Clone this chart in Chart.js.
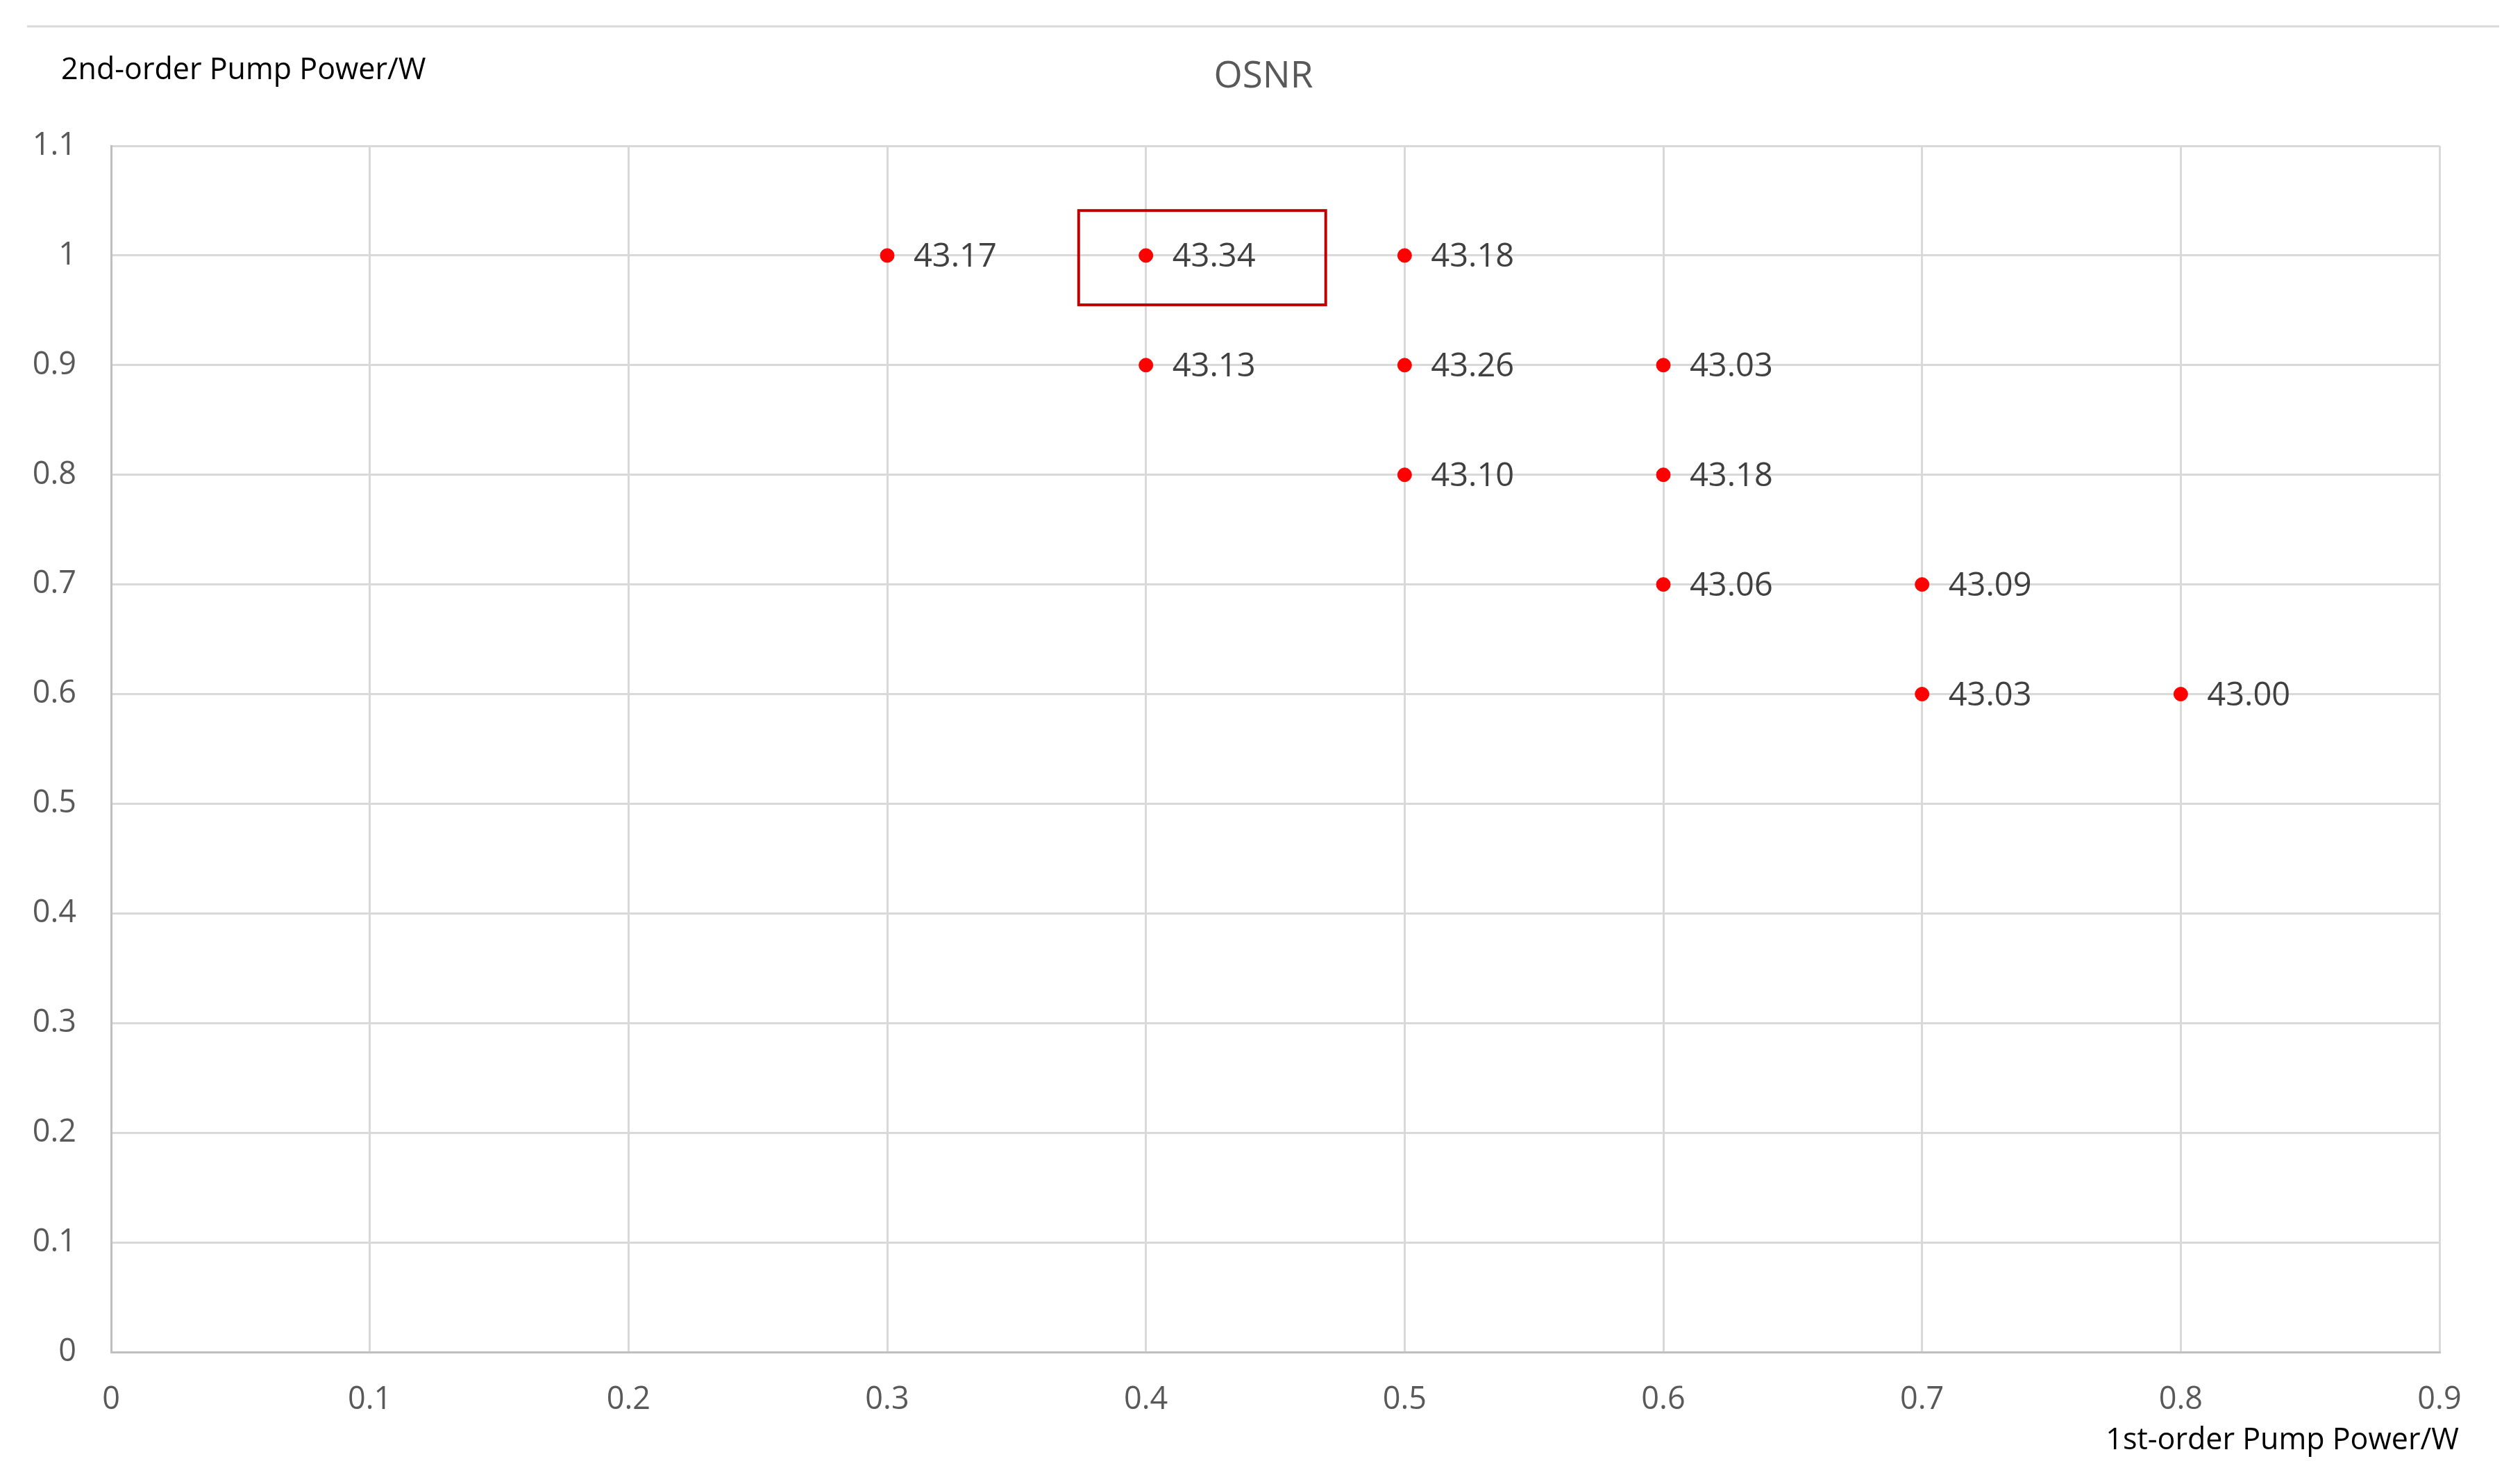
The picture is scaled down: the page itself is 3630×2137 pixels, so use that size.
<!DOCTYPE html>
<html>
<head>
<meta charset="utf-8">
<title>OSNR</title>
<script src="https://cdn.jsdelivr.net/npm/chart.js@4/dist/chart.umd.min.js"></script>
<style>
    html, body { margin: 0; padding: 0; background: #ffffff; }
    #wrap { width: 3630px; height: 2137px; }
</style>
</head>
<body>
<div id="wrap"><canvas id="osnrChart" width="3630" height="2137"></canvas></div>
<script>
// 1st-order pump power (x), 2nd-order pump power (y), OSNR value per point
const firstOrderPower = [0.3, 0.4, 0.5, 0.4, 0.5, 0.6, 0.5, 0.6, 0.6, 0.7, 0.7, 0.8];
const secondOrderPower = [1.0, 1.0, 1.0, 0.9, 0.9, 0.9, 0.8, 0.8, 0.7, 0.7, 0.6, 0.6];
const osnrLabels = ['43.17', '43.34', '43.18', '43.13', '43.26', '43.03', '43.10', '43.18', '43.06', '43.09', '43.03', '43.00'];

const xTickLabels = ['0', '0.1', '0.2', '0.3', '0.4', '0.5', '0.6', '0.7', '0.8', '0.9'];
const yTickLabels = ['0', '0.1', '0.2', '0.3', '0.4', '0.5', '0.6', '0.7', '0.8', '0.9', '1', '1.1'];

// highlight box around the best point, in data units [xMin, xMax, yMin, yMax]
const highlightBox = [0.374, 0.4695, 0.955, 1.041];

const FONT = "'Open Sans', 'Noto Sans', sans-serif";

const points = firstOrderPower.map((x, i) => ({ x: x, y: secondOrderPower[i] }));

// labels next to each point, the box and the loose titles
const decorPlugin = {
    id: 'decor',
    afterDatasetsDraw(chart) {
        const ctx = chart.ctx;
        const meta = chart.getDatasetMeta(0);
        ctx.save();
        ctx.fillStyle = '#404040';
        ctx.font = `47px ${FONT}`;
        ctx.textAlign = 'left';
        ctx.textBaseline = 'middle';
        meta.data.forEach((pt, i) => {
            ctx.fillText(osnrLabels[i], pt.x + 38, pt.y + 3);
        });

        const xs = chart.scales.x, ys = chart.scales.y;
        const bx1 = xs.getPixelForValue(highlightBox[0]);
        const bx2 = xs.getPixelForValue(highlightBox[1]);
        const by1 = ys.getPixelForValue(highlightBox[3]);
        const by2 = ys.getPixelForValue(highlightBox[2]);
        ctx.strokeStyle = '#c00000';
        ctx.lineWidth = 4;
        ctx.strokeRect(bx1, by1, bx2 - bx1, by2 - by1);
        ctx.restore();
    },
    afterDraw(chart) {
        const ctx = chart.ctx;
        ctx.save();
        // sheet border line at the top
        ctx.strokeStyle = '#d9d9d9';
        ctx.lineWidth = 3;
        ctx.beginPath();
        ctx.moveTo(39, 38);
        ctx.lineTo(3600, 38);
        ctx.stroke();

        ctx.textBaseline = 'middle';
        ctx.fillStyle = '#595959';
        ctx.font = `53px ${FONT}`;
        ctx.textAlign = 'center';
        ctx.fillText('OSNR', 1820, 111);

        ctx.fillStyle = '#000000';
        ctx.font = `43px ${FONT}`;
        ctx.textAlign = 'left';
        ctx.fillText('2nd-order Pump Power/W', 88, 102);
        ctx.textAlign = 'right';
        ctx.fillText('1st-order Pump Power/W', 3542, 2075);
        ctx.restore();
    }
};

new Chart(document.getElementById('osnrChart'), {
    type: 'scatter',
    data: {
        datasets: [{
            label: 'OSNR',
            data: points,
            backgroundColor: '#ff0000',
            borderColor: '#ff0000',
            pointRadius: 10,
            pointHoverRadius: 10
        }]
    },
    options: {
        responsive: false,
        animation: false,
        devicePixelRatio: 1,
        layout: { padding: { left: 0, top: 210, right: 116, bottom: 0 } },
        plugins: {
            legend: { display: false },
            title: { display: false },
            tooltip: { enabled: false }
        },
        scales: {
            x: {
                type: 'linear',
                min: 0,
                max: 0.9,
                afterFit: scale => { scale.height = 190; },
                afterBuildTicks: scale => {
                    scale.ticks = xTickLabels.map(t => ({ value: parseFloat(t) }));
                },
                ticks: {
                    color: '#595959',
                    font: { family: FONT, size: 45 },
                    padding: 42,
                    maxRotation: 0,
                    callback: (v, i) => xTickLabels[i]
                },
                grid: { color: '#d9d9d9', lineWidth: 3, drawTicks: false },
                border: { color: '#bfbfbf', width: 3 }
            },
            y: {
                type: 'linear',
                min: 0,
                max: 1.1,
                afterFit: scale => { scale.width = 160; },
                afterBuildTicks: scale => {
                    scale.ticks = yTickLabels.map(t => ({ value: parseFloat(t) }));
                },
                ticks: {
                    color: '#595959',
                    font: { family: FONT, size: 45 },
                    padding: 50,
                    callback: (v, i) => yTickLabels[i]
                },
                grid: { color: '#d9d9d9', lineWidth: 3, drawTicks: false },
                border: { color: '#bfbfbf', width: 3 }
            }
        }
    },
    plugins: [decorPlugin]
});
</script>
</body>
</html>
